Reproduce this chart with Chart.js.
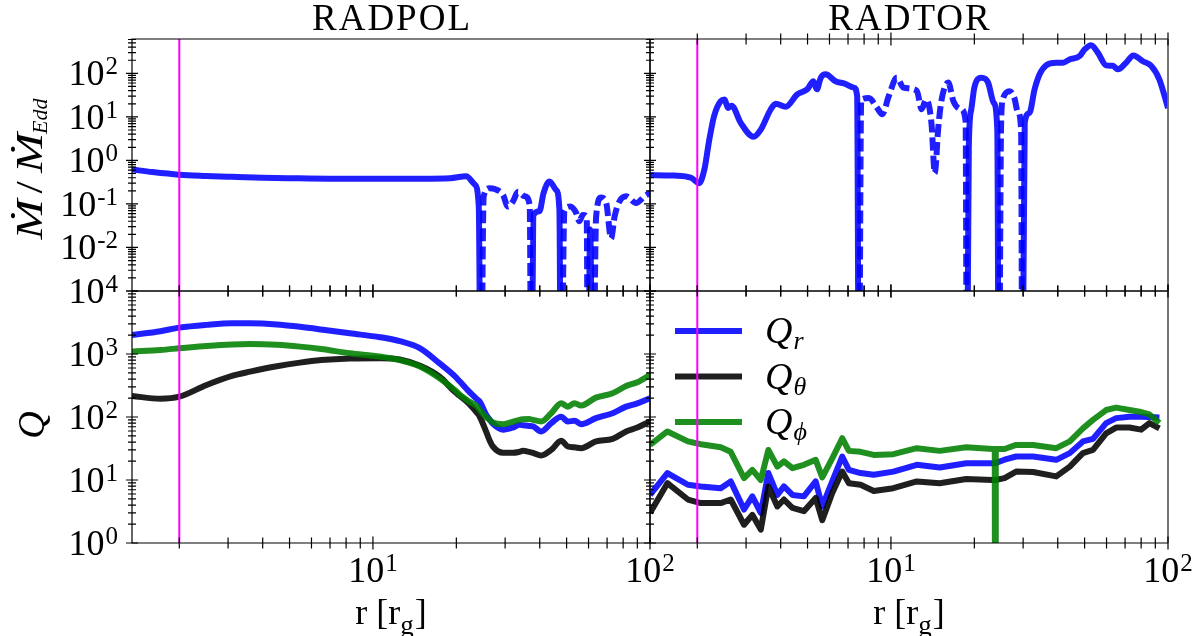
<!DOCTYPE html>
<html>
<head>
<meta charset="utf-8">
<script src="https://cdn.jsdelivr.net/npm/chart.js@4.4.1/dist/chart.umd.min.js"></script>
<style>
  html, body { margin: 0; padding: 0; background: #fff; }
  #wrap { position: relative; width: 1196px; height: 636px; overflow: hidden; background: #fff; }
  #wrap canvas { position: absolute; left: 0; top: 0; }
</style>
</head>
<body>
<div id="wrap">
  <canvas id="polTop" width="1196" height="636"></canvas>
  <canvas id="torTop" width="1196" height="636"></canvas>
  <canvas id="polQ" width="1196" height="636"></canvas>
  <canvas id="torQ" width="1196" height="636"></canvas>
</div>
<script>
// ---------- data ----------
// accretion rate: negative values are drawn dashed (|value|), 0 = drops off the log axis
const rPolTop = [1.35, 1.6, 2.0, 2.5, 3.1, 4.0, 5.0, 7.0, 10.6, 15, 19, 21.7, 23.3, 24.1, 24.5, 25.1, 26.4, 27.5, 29.5, 30.7,
  32.0, 33.4, 35.3, 36.8, 37.3, 38.0, 39.9, 41.3, 43.4, 45.8, 47.1, 47.7, 49.1, 51.5, 54.1, 55.6, 57.2, 59.1, 59.7, 60.8,
  62.2, 63.9, 66.6, 69.5, 72.4, 74.5, 77.6, 82.0, 89.1, 95.5, 100];
const mdotPolTop = [0.62, 0.54, 0.47, 0.44, 0.42, 0.40, 0.39, 0.38, 0.38, 0.38, 0.39, 0.43, 0.28, 0.087, 0, -0.15, -0.23, -0.22, -0.16, -0.087,
  -0.114, -0.19, -0.15, -0.095, 0, 0.056, 0.068, 0.18, 0.33, 0.21, 0.074, 0, -0.068, -0.087, -0.063, -0.04, -0.056, -0.051, 0, 0.026,
  0, -0.051, -0.14, -0.105, -0.016, -0.051, -0.115, -0.15, -0.105, -0.15, -0.18];

const rTorTop = [1.35, 1.65, 1.90, 2.03, 2.12, 2.21, 2.30, 2.43, 2.51, 2.58, 2.66, 2.87, 3.19, 3.39, 3.68, 3.84, 4.17, 4.59, 4.99, 5.25,
  5.40, 5.58, 5.81, 6.31, 6.76, 7.35, 7.55, 7.66, 7.81, 8.32, 8.92, 9.30, 9.82, 10.5, 11.1, 12.4, 12.9, 13.4, 14.0, 14.4,
  14.8, 15.2, 16.1, 16.8, 17.9, 18.6, 18.8, 19.1, 19.5, 20.0, 21.2, 22.4, 23.5, 24.2, 24.5, 25.0, 25.4, 26.8, 27.9, 28.7,
  29.5, 29.8, 30.4, 31.6, 33.0, 34.4, 36.3, 39.5, 41.8, 44.1, 48.0, 50.0, 52.8, 55.8, 59.8, 63.2, 65.9, 70.6, 75.0, 81.1,
  86.9, 93.1, 100];
const mdotTorTop = [0.46, 0.45, 0.40, 0.30, 0.61, 3.0, 10.5, 23, 25, 16, 18, 7.3, 3.5, 5.1, 14.8, 20, 17, 33, 43, 66,
  43, 79, 95, 66, 59, 47, 30, 0, -25, -27, -16, -11.5, -30, -79, -47, -40, -15, -25, -7.3, -0.51,
  -5.1, -23, -62, -23, -15, -8, 0, 2.1, 15, 47, 79, 62, 21, 5.1, 0, -8.7, -27, -39, -27, -13,
  -5.1, 0, 7.3, 12.3, 43, 95, 153, 176, 176, 209, 250, 355, 445, 300, 153, 149, 124, 176, 258, 190,
  149, 72, 16];

// Q factors, RADPOL
const rPolQ = [1.35, 1.71, 2.0, 2.51, 3.1, 3.6, 4.5, 5.45, 6.5, 8.25, 10.6, 12.5, 14.8, 17.4, 19.7, 20.6, 22.1, 23.8, 24.3, 25.6,
  26.4, 27.1, 29.5, 32.0, 33.8, 34.8, 36.6, 37.8, 40.5, 44.0, 47.8, 50.5, 53.4, 56.4, 63.8, 73.3, 82.0, 90.0, 100];
const qrPol = [2000, 2300, 2620, 2900, 3070, 3070, 2950, 2700, 2450, 2130, 1850, 1600, 1230, 710, 450, 365, 260, 190, 175, 110,
  90, 78, 63, 68, 75, 74, 72, 71, 59, 80, 101, 85, 87, 77, 96, 115, 146, 165, 199];
const qthPol = [215, 195, 210, 323, 450, 525, 640, 730, 800, 850, 860, 820, 650, 436, 253, 215, 166, 115, 101, 59,
  42, 34, 27, 27, 28, 29, 28, 27, 24.5, 30, 42, 34, 33, 32, 41, 45, 59, 68, 85];
const qphPol = [1090, 1160, 1230, 1340, 1420, 1440, 1400, 1310, 1200, 1030, 910, 800, 630, 410, 270, 225, 180, 146, 130, 100,
  90, 82, 77, 84, 90, 92, 93, 90, 85, 115, 166, 146, 166, 152, 203, 238, 310, 356, 466];

// Q factors, RADTOR
const rTorQ = [1.35, 1.56, 1.85, 2.06, 2.43, 2.64, 2.95, 3.16, 3.39, 3.61, 3.89, 4.11, 4.41, 4.85, 5.35, 5.65, 6.14, 6.67, 7.05, 7.77,
  8.67, 10.2, 12.4, 15.0, 18.7, 23.3, 23.7, 23.8, 23.9, 25.7, 28.3, 32.6, 39.5, 44.2, 49.3, 53.6, 59.8, 65.0, 72.6, 80.0,
  85.7, 93.1];
const qrTor = [5.8, 12.9, 8.4, 7.9, 7.4, 9.5, 3.4, 5.5, 3.0, 12.9, 5.8, 7.9, 5.8, 5.5, 9.5, 3.8, 9.5, 23.6, 14.5, 12.9,
  12.1, 13.6, 17.4, 15.8, 18.5, 18.5, 18.5, 18.5, 18.5, 21, 23.6, 23.6, 20.9, 26.7, 41, 45, 80, 96, 101, 101,
  100, 98];
const qthTor = [3.0, 8.9, 4.9, 4.3, 4.3, 4.9, 1.95, 2.8, 1.63, 7.9, 3.8, 4.9, 3.6, 3.2, 5.2, 2.3, 6.2, 13.6, 8.9, 8.4,
  6.7, 7.4, 9.5, 8.9, 10.4, 10, 10, 10, 10, 10.7, 13.6, 13.4, 11.4, 16.3, 26.7, 30, 55, 68, 68, 63,
  80, 66];
const qphTor = [36, 59, 41, 37, 33, 28, 10.7, 14.5, 10, 30, 16.3, 19.7, 15.4, 17.4, 20.9, 11, 22, 46, 29, 28,
  25, 25.7, 32, 29, 33, 31, 31, 0, 31, 31, 36, 36, 32, 41, 66, 90, 129, 141, 129, 120,
  110, 80];

const rMark = 2.0;                       // vertical marker
const xRange = [1.35, 100];
const mdotRange = [1e-3, 616];
const qRange = [1, 1e4];
const xTickLabels = [10, 100];
const yTickTop = [1e-2, 1e-1, 1, 10, 100];
const yTickBottom = [1, 10, 100, 1e3, 1e4];
const panelTitles = ['RADPOL', 'RADTOR'];
const legendSubs = ['r', '\u03b8', '\u03d5'];

// ---------- styling ----------
const SERIF = '"Liberation Serif", "DejaVu Serif", serif';
const FLOOR = 1e-6;
const BLUE = 'rgba(0,0,255,0.88)', BLACK = 'rgba(0,0,0,0.88)', GREEN = 'rgba(0,128,0,0.88)';

function logTicks(min, max) {
    const out = [];
    for (let e = Math.floor(Math.log10(min)); e <= Math.ceil(Math.log10(max)); e++) {
        for (let k = 1; k < 10; k++) {
            const v = k * Math.pow(10, e);
            if (v >= min * 0.999 && v <= max * 1.001) out.push({ v, major: k === 1 });
        }
    }
    return out;
}

function powLabel(ctx, v, x, y, align) {
    const base = '10', sup = String(Math.round(Math.log10(v)));
    ctx.font = `36px ${SERIF}`;
    const w1 = ctx.measureText(base).width;
    ctx.font = `25px ${SERIF}`;
    const w2 = ctx.measureText(sup).width;
    const total = w1 + 1 + w2;
    const left = align === 'right' ? x - total : x - total / 2;
    ctx.font = `36px ${SERIF}`;
    ctx.fillText(base, left, y);
    ctx.font = `25px ${SERIF}`;
    ctx.fillText(sup, left + w1 + 1, y - 11);
}

// draw a run of text pieces centred on cx; piece = {t, f, dy, sx, pre, post}
function drawPieces(ctx, pieces, cx, y) {
    const w = p => { ctx.font = p.f; return ctx.measureText(p.t).width * (p.sx || 1); };
    let total = 0;
    pieces.forEach(p => { total += (p.pre || 0) + w(p) + (p.post || 0); });
    let x = cx - total / 2;
    pieces.forEach(p => {
        x += p.pre || 0;
        const pw = w(p);
        ctx.save();
        ctx.translate(x, y + (p.dy || 0));
        ctx.scale(p.sx || 1, 1);
        ctx.fillText(p.t, 0, 0);
        ctx.restore();
        x += pw + (p.post || 0);
    });
}

const decorPlugin = {
    id: 'decor',
    beforeDatasetsDraw(chart, args, o) {
        if (!o.legend) return;
        const { ctx, chartArea: a } = chart;
        const sets = [chart.data.datasets[3], chart.data.datasets[2], chart.data.datasets[1]];
        ctx.save();
        sets.forEach((ds, i) => {
            const y = a.top + 40 + i * 45.5;
            ctx.strokeStyle = ds.borderColor;
            ctx.lineWidth = 6;
            ctx.beginPath();
            ctx.moveTo(a.left + 25, y);
            ctx.lineTo(a.left + 92, y);
            ctx.stroke();
            ctx.fillStyle = '#000';
            ctx.textBaseline = 'alphabetic';
            ctx.font = `italic 38px ${SERIF}`;
            ctx.fillText('Q', a.left + 115, y + 12);
            const wq = ctx.measureText('Q').width;
            ctx.font = `italic 26px ${SERIF}`;
            ctx.fillText(legendSubs[i], a.left + 115 + wq + 1, y + 18);
        });
        ctx.restore();
    },
    afterDraw(chart, args, o) {
        const { ctx, chartArea: a } = chart;
        const xs = chart.scales.x, ys = chart.scales.y;
        ctx.save();
        ctx.lineWidth = 1.2;
        ctx.strokeStyle = '#000';
        ctx.beginPath();
        ctx.moveTo(a.right, a.top); ctx.lineTo(a.left, a.top);
        ctx.lineTo(a.left, a.bottom); ctx.lineTo(a.right, a.bottom);
        ctx.stroke();
        ctx.strokeStyle = o.rightColor;
        ctx.lineWidth = o.rightColor === '#000' ? 1.2 : 1.8;
        ctx.beginPath(); ctx.moveTo(a.right, a.top); ctx.lineTo(a.right, a.bottom); ctx.stroke();

        // inout tick marks
        ctx.strokeStyle = '#000';
        ctx.lineWidth = 1.2;
        ctx.beginPath();
        const xt = logTicks(xs.min, xs.max);
        o.sides.forEach(side => {
            if (side === 'left') {
                logTicks(ys.min, ys.max).forEach(t => {
                    const y = ys.getPixelForValue(t.v), h = t.major ? 6 : 4;
                    ctx.moveTo(a.left - h, y); ctx.lineTo(a.left + h, y);
                });
            } else {
                const y0 = side === 'top' ? a.top : a.bottom;
                xt.forEach(t => {
                    const x = xs.getPixelForValue(t.v), h = t.major ? 6.5 : 5.5;
                    ctx.moveTo(x, y0 - h); ctx.lineTo(x, y0 + h);
                });
            }
        });
        ctx.stroke();

        ctx.fillStyle = '#000';
        ctx.textAlign = 'left';
        ctx.textBaseline = 'alphabetic';
        (o.yLabels || []).forEach(v => powLabel(ctx, v, a.left - 14, ys.getPixelForValue(v) + 12, 'right'));
        (o.xLabels || []).forEach(v => powLabel(ctx, v, xs.getPixelForValue(v), a.bottom + 39, 'center'));

        const cx = (a.left + a.right) / 2;
        if (o.title) {
            ctx.font = `37px ${SERIF}`;
            ctx.letterSpacing = '2px';
            ctx.textAlign = 'center';
            ctx.fillText(o.title, cx + 1, 30);
            ctx.letterSpacing = '0px';
            ctx.textAlign = 'left';
        }
        if (o.xTitle) {
            drawPieces(ctx, [
                { t: 'r [r', f: `36px ${SERIF}` },
                { t: 'g', f: `27px ${SERIF}`, dy: 10 },
                { t: ']', f: `36px ${SERIF}`, pre: 1 }
            ], cx, 624);
        }
        if (o.yTitle) {
            ctx.save();
            ctx.translate(o.yTitle === 'Q' ? 44 : 42, (a.top + a.bottom) / 2 + 4);
            ctx.rotate(-Math.PI / 2);
            if (o.yTitle === 'Q') {
                drawPieces(ctx, [{ t: 'Q', f: `italic 38px ${SERIF}` }], -4, 0);
            } else {
                drawPieces(ctx, [
                    { t: '\u1e40', f: `italic 37px ${SERIF}`, sx: 1.3 },
                    { t: '/', f: `37px ${SERIF}`, pre: 6, post: 8, sx: 1.2 },
                    { t: '\u1e40', f: `italic 37px ${SERIF}`, sx: 1.3 },
                    { t: 'Edd', f: `italic 22px ${SERIF}`, dy: 5, pre: -1 }
                ], 0, 0);
            }
            ctx.restore();
        }
        ctx.restore();
    }
};

function curve(rs, vals, color, smooth) {
    return {
        data: rs.map((r, i) => ({ x: r, y: Math.abs(vals[i]) || FLOOR })),
        borderColor: color,
        borderWidth: 6,
        borderJoinStyle: 'round',
        pointRadius: 0,
        fill: false,
        clip: 0,
        tension: smooth ? 0.4 : 0,
        cubicInterpolationMode: smooth ? 'monotone' : 'default',
        segment: {
            borderDash: c => (vals[c.p0DataIndex] < 0 || vals[c.p1DataIndex] < 0) ? [13, 5] : undefined
        }
    };
}

function marker(range) {
    return {
        data: [{ x: rMark, y: range[0] }, { x: rMark, y: range[1] }],
        borderColor: '#ff00ff', borderWidth: 2, pointRadius: 0, clip: 0
    };
}

function makeChart(id, pad, range, datasets, decor) {
    return new Chart(document.getElementById(id), {
        type: 'line',
        data: { datasets },
        options: {
            responsive: false,
            animation: false,
            events: [],
            layout: { padding: pad },
            scales: {
                x: { type: 'logarithmic', display: false, min: xRange[0], max: xRange[1] },
                y: { type: 'logarithmic', display: false, min: range[0], max: range[1] }
            },
            plugins: { legend: { display: false }, tooltip: { enabled: false }, decor }
        },
        plugins: [decorPlugin]
    });
}

// ---------- panels ----------
makeChart('polTop', { left: 132, top: 39, right: 546, bottom: 345 }, mdotRange,
    [marker(mdotRange), curve(rPolTop, mdotPolTop, BLUE, true)],
    { title: panelTitles[0], sides: ['left', 'bottom'], yLabels: yTickTop, yTitle: 'mdot', rightColor: '#000' });

makeChart('torTop', { left: 650, top: 39, right: 28, bottom: 345 }, mdotRange,
    [marker(mdotRange), curve(rTorTop, mdotTorTop, BLUE, true)],
    { title: panelTitles[1], sides: ['left', 'top', 'bottom'], rightColor: '#666' });

makeChart('polQ', { left: 132, top: 291, right: 546, bottom: 93 }, qRange,
    [marker(qRange), curve(rPolQ, qphPol, GREEN, true), curve(rPolQ, qthPol, BLACK, true), curve(rPolQ, qrPol, BLUE, true)],
    { sides: ['left', 'top', 'bottom'], yLabels: yTickBottom, xLabels: xTickLabels, xTitle: true, yTitle: 'Q', rightColor: '#000' });

makeChart('torQ', { left: 650, top: 291, right: 28, bottom: 93 }, qRange,
    [marker(qRange), curve(rTorQ, qphTor, GREEN, false), curve(rTorQ, qthTor, BLACK, false), curve(rTorQ, qrTor, BLUE, false)],
    { sides: ['left', 'top', 'bottom'], xLabels: xTickLabels, xTitle: true, legend: true, rightColor: '#666' });
</script>
</body>
</html>
